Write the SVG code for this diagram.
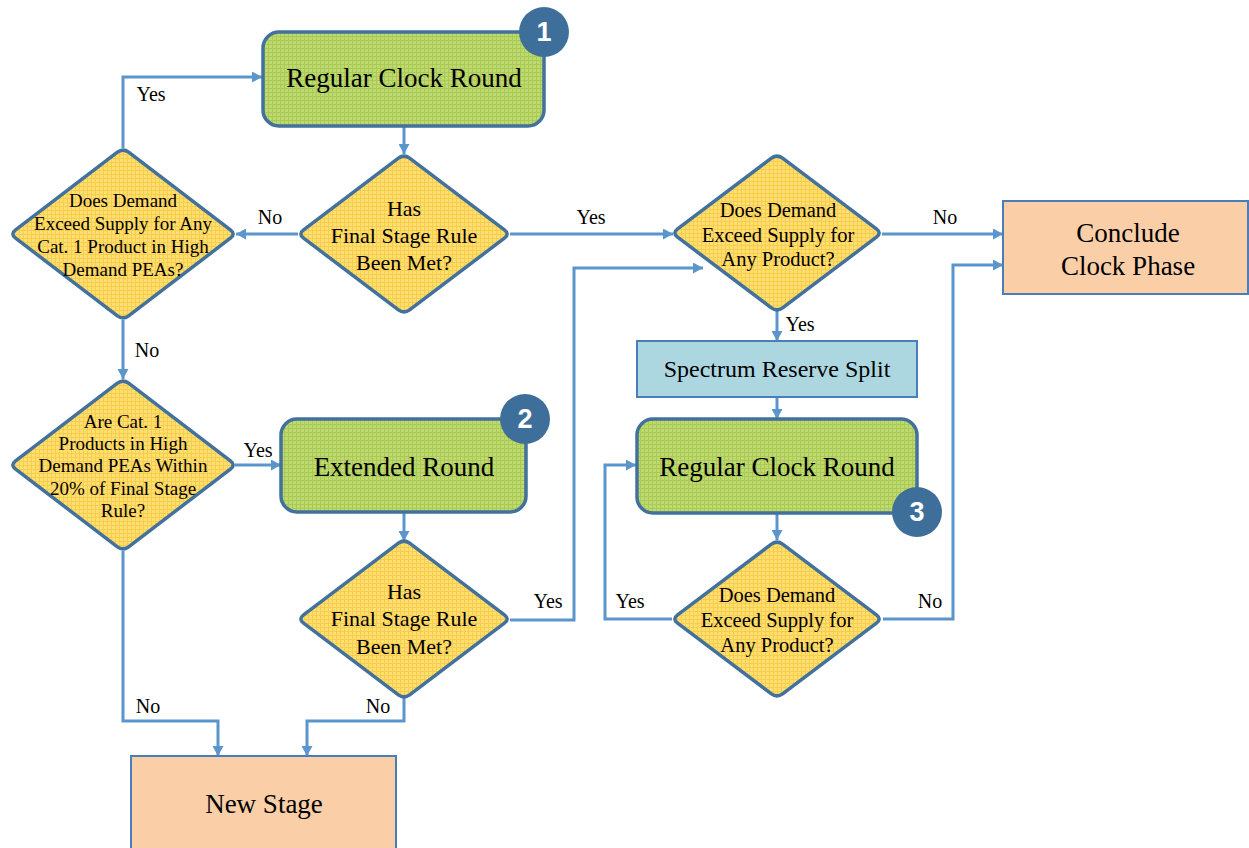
<svg xmlns="http://www.w3.org/2000/svg" width="1249" height="848" viewBox="0 0 1249 848">
  <style>
    .serif { font-family: "Liberation Serif", "Times New Roman", serif; fill: #000; text-anchor: middle; dominant-baseline: central; }
    .box { font-size: 27px; }
    .srs { font-size: 24px; }
    .dA { font-size: 22px; }
    .dC { font-size: 20.5px; }
    .dB { font-size: 19px; }
    .lbl { font-size: 20px; }
    .conn { fill: none; stroke: #5A96CC; stroke-width: 3; marker-end: url(#arrow); }
    .rr { fill: url(#greenGrid); stroke: #41719C; stroke-width: 3.5; }
    .dia { fill: url(#yellowGrid); stroke: #41719C; stroke-width: 3.5; }
    .term { fill: #FACFA8; stroke: #4A7EBB; stroke-width: 2; }
    .split { fill: #ADD7E0; stroke: #4A7EBB; stroke-width: 2; }
    .badge { fill: #3E6F9A; }
    .badgeNum { font-family: "Liberation Sans", Arial, sans-serif; font-weight: bold; font-size: 27px; fill: #fff; text-anchor: middle; dominant-baseline: central; }
  </style>
  <defs>
    <pattern id="greenGrid" width="4" height="4" patternUnits="userSpaceOnUse">
      <rect width="4" height="4" fill="#BED96F"/>
      <path d="M0,0.5 H4 M0.5,0 V4" stroke="#AACA55" stroke-width="1"/>
    </pattern>
    <pattern id="yellowGrid" width="4" height="4" patternUnits="userSpaceOnUse">
      <rect width="4" height="4" fill="#FFDE72"/>
      <path d="M0,0.5 H4 M0.5,0 V4" stroke="#F8CD4C" stroke-width="1"/>
    </pattern>
    <marker id="arrow" markerWidth="11" markerHeight="11" refX="10" refY="5.5" orient="auto" markerUnits="userSpaceOnUse">
      <path d="M0,0 L10,5.5 L0,11 Z" fill="#5A96CC"/>
    </marker>
    <!-- decision shapes, centred on the origin -->
    <path id="diaMid" d="M5.6,-75.8 L100.4,-4.2 Q106,0 100.4,4.2 L5.6,75.8 Q0,80 -5.6,75.8 L-100.4,4.2 Q-106,0 -100.4,-4.2 L-5.6,-75.8 Q0,-80 5.6,-75.8 Z"/>
    <path id="diaBig" d="M5.6,-81.8 L107.4,-4.2 Q113,0 107.4,4.2 L5.6,81.8 Q0,86 -5.6,81.8 L-107.4,4.2 Q-113,0 -107.4,-4.2 L-5.6,-81.8 Q0,-86 5.6,-81.8 Z"/>
    <path id="diaSmall" d="M5.6,-74.8 L99.4,-4.2 Q105,0 99.4,4.2 L5.6,74.8 Q0,79 -5.6,74.8 L-99.4,4.2 Q-105,0 -99.4,-4.2 L-5.6,-74.8 Q0,-79 5.6,-74.8 Z"/>
  </defs>

  <rect width="1249" height="848" fill="#fff"/>

  <!-- connectors -->
  <g id="connectors">
    <path class="conn" d="M404,126 V154"/>
    <path class="conn" d="M298,234 H236"/>
    <path class="conn" d="M123,148 V77 H262"/>
    <path class="conn" d="M510,234 H673"/>
    <path class="conn" d="M882,234 H1003"/>
    <path class="conn" d="M777,311 V341"/>
    <path class="conn" d="M777,397 V419"/>
    <path class="conn" d="M777,513 V540"/>
    <path class="conn" d="M672,619 H605 V465 H636"/>
    <path class="conn" d="M883,619 H953 V265 H1003"/>
    <path class="conn" d="M123,320 V379"/>
    <path class="conn" d="M235,465 H281"/>
    <path class="conn" d="M404,512 V541"/>
    <path class="conn" d="M510,620 H574 V268 H703"/>
    <path class="conn" d="M123,551 V721 H218 V756"/>
    <path class="conn" d="M404,698 V721 H307 V756"/>
  </g>

  <!-- connector labels -->
  <g id="labels" class="serif lbl">
    <text x="151" y="94">Yes</text>
    <text x="270" y="217">No</text>
    <text x="591" y="217">Yes</text>
    <text x="945" y="217">No</text>
    <text x="800" y="324">Yes</text>
    <text x="147" y="350">No</text>
    <text x="258" y="450">Yes</text>
    <text x="548" y="601">Yes</text>
    <text x="630" y="601">Yes</text>
    <text x="930" y="601">No</text>
    <text x="148" y="706">No</text>
    <text x="378" y="706">No</text>
  </g>

  <!-- regular clock round (1) -->
  <g id="clockRound1">
    <rect class="rr" x="263" y="32" width="281" height="94" rx="16"/>
    <text class="serif box" x="404" y="78">Regular Clock Round</text>
    <circle class="badge" cx="544" cy="32" r="25"/>
    <text class="badgeNum" x="544" y="32">1</text>
  </g>

  <!-- final stage rule check -->
  <g id="finalStageCheck1">
    <use href="#diaMid" class="dia" transform="translate(404,234)"/>
    <text class="serif dA" x="404" y="208">Has</text>
    <text class="serif dA" x="404" y="235">Final Stage Rule</text>
    <text class="serif dA" x="404" y="262">Been Met?</text>
  </g>

  <!-- high demand PEA check -->
  <g id="highDemandCheck">
    <use href="#diaBig" class="dia" transform="translate(123,234)"/>
    <text class="serif dB" x="123" y="200">Does Demand</text>
    <text class="serif dB" x="123" y="223">Exceed Supply for Any</text>
    <text class="serif dB" x="123" y="246">Cat. 1 Product in High</text>
    <text class="serif dB" x="123" y="269">Demand PEAs?</text>
  </g>

  <!-- excess demand check -->
  <g id="excessDemand1">
    <use href="#diaSmall" class="dia" transform="translate(777,233)"/>
    <text class="serif dC" x="778" y="210">Does Demand</text>
    <text class="serif dC" x="778" y="235">Exceed Supply for</text>
    <text class="serif dC" x="778" y="259">Any Product?</text>
  </g>

  <!-- conclude clock phase -->
  <g id="concludeClockPhase">
    <rect class="term" x="1003" y="201" width="245" height="93"/>
    <text class="serif box" x="1128" y="233">Conclude</text>
    <text class="serif box" x="1128" y="266">Clock Phase</text>
  </g>

  <!-- spectrum reserve split -->
  <g id="spectrumReserveSplit">
    <rect class="split" x="637" y="341" width="280" height="56"/>
    <text class="serif srs" x="777" y="369">Spectrum Reserve Split</text>
  </g>

  <!-- regular clock round (3) -->
  <g id="clockRound3">
    <rect class="rr" x="637" y="419" width="280" height="94" rx="16"/>
    <text class="serif box" x="777" y="467">Regular Clock Round</text>
    <circle class="badge" cx="917" cy="512" r="25"/>
    <text class="badgeNum" x="917" y="512">3</text>
  </g>

  <!-- excess demand check after round 3 -->
  <g id="excessDemand2">
    <use href="#diaSmall" class="dia" transform="translate(777,619)"/>
    <text class="serif dC" x="777" y="595">Does Demand</text>
    <text class="serif dC" x="777" y="620">Exceed Supply for</text>
    <text class="serif dC" x="777" y="645">Any Product?</text>
  </g>

  <!-- within 20% check -->
  <g id="within20Check">
    <use href="#diaBig" class="dia" transform="translate(123,465)"/>
    <text class="serif dB" x="123" y="421">Are Cat. 1</text>
    <text class="serif dB" x="123" y="443">Products in High</text>
    <text class="serif dB" x="123" y="465">Demand PEAs Within</text>
    <text class="serif dB" x="123" y="488">20% of Final Stage</text>
    <text class="serif dB" x="123" y="510">Rule?</text>
  </g>

  <!-- extended round (2) -->
  <g id="extendedRound">
    <rect class="rr" x="281" y="419" width="245" height="93" rx="16"/>
    <text class="serif box" x="404" y="467">Extended Round</text>
    <circle class="badge" cx="525" cy="419" r="25"/>
    <text class="badgeNum" x="525" y="419">2</text>
  </g>

  <!-- final stage rule check after extended round -->
  <g id="finalStageCheck2">
    <use href="#diaMid" class="dia" transform="translate(404,619)"/>
    <text class="serif dA" x="404" y="591">Has</text>
    <text class="serif dA" x="404" y="618">Final Stage Rule</text>
    <text class="serif dA" x="404" y="646">Been Met?</text>
  </g>

  <!-- new stage -->
  <g id="newStage">
    <rect class="term" x="131" y="756" width="265" height="100"/>
    <text class="serif box" x="264" y="804">New Stage</text>
  </g>
</svg>
